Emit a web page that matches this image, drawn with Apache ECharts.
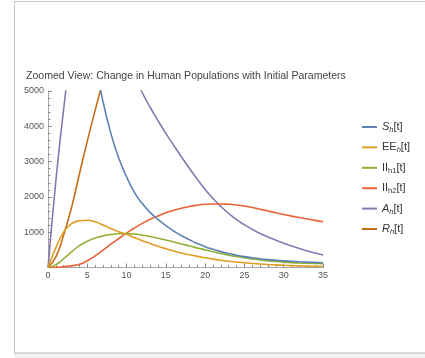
<!DOCTYPE html>
<html><head><meta charset="utf-8">
<script src="https://cdn.jsdelivr.net/npm/echarts@6/dist/echarts.min.js"></script>
<style>
html,body{margin:0;padding:0;background:#fff;}
#frame{position:absolute;left:14px;top:1px;width:420px;height:350px;border-left:1px solid #c8c8c8;border-top:1px solid #c8c8c8;border-bottom:2px solid #d8d8d8;}
#under{position:absolute;left:14px;top:354px;width:420px;height:4px;background:#f2f2f2;}
#c{position:absolute;left:0;top:0;width:425px;height:358px;}
</style></head>
<body>
<div id="frame"></div><div id="under"></div>
<div id="c"></div>
<script>
// ---- data ----
const titleText = "Zoomed View: Change in Human Populations with Initial Parameters";
const xTicks = [0, 5, 10, 15, 20, 25, 30, 35];
const yTicks = [0, 1000, 2000, 3000, 4000, 5000];

// time t = 0, 1, 2, ..., 35
const tGrid = [0,1,2,3,4,5,6,7,8,9,10,11,12,13,14,15,16,17,18,19,20,21,22,23,24,25,26,27,28,29,30,31,32,33,34,35];

const vS  = [20000,16500,13300,10700,8700,7200,5850,4700,3800,3100,2570,2130,1810,1560,1360,1185,1035,900,785,680,590,515,450,395,348,308,275,247,224,205,189,175,163,153,144,136];
const vEE = [0,560,1010,1245,1325,1340,1295,1205,1105,1015,940,850,760,680,600,530,465,410,360,315,275,238,205,178,155,133,115,99,85,73,62,53,45,39,34,30];
const vI1 = [0,80,250,440,620,745,835,895,935,955,960,950,920,880,830,780,725,668,610,555,500,447,395,350,310,275,243,213,188,168,152,139,129,121,115,110];
const vI2 = [0,5,25,50,90,190,330,490,660,820,975,1120,1250,1365,1460,1550,1620,1680,1730,1765,1790,1800,1800,1790,1770,1740,1700,1650,1600,1550,1500,1455,1415,1375,1335,1300];
const vA  = [0,2450,4500,6150,7000,7450,7480,7350,7000,6500,5950,5430,4950,4540,4160,3800,3460,3130,2810,2500,2210,1955,1730,1530,1355,1210,1080,965,865,775,690,610,540,470,410,355];
const vR  = [0,300,930,1700,2650,3580,4450,5300,6150,6950,7700,8400,9050,9650,10200,10700,11150,11550,11900,12200,12450,12700,12900,13100,13250,13400,13550,13650,13750,13850,13950,14000,14050,14100,14150,14200];

const names = ["S_h[t]", "EE_h[t]", "II_h1[t]", "II_h2[t]", "A_h[t]", "R_h[t]"];
const colors = ["#5E81B5", "#E19C24", "#8FB032", "#EB6235", "#8778B3", "#C56E1A"];
const vs = [vS, vEE, vI1, vI2, vA, vR];

const legendRich = {
  "S_h[t]":  "{it|S}{sit|h}{n|[t]}",
  "EE_h[t]": "{n|EE}{sit|h}{n|[t]}",
  "II_h1[t]":"{n|II}{s|h1}{n|[t]}",
  "II_h2[t]":"{n|II}{s|h2}{n|[t]}",
  "A_h[t]":  "{it|A}{sit|h}{n|[t]}",
  "R_h[t]":  "{it|R}{sit|h}{n|[t]}"
};

const series = names.map((n, i) => ({
  name: n, type: 'line', showSymbol: false, symbol: 'none',
  smooth: 0.5, clip: true, xAxisIndex: 0,
  lineStyle: {color: colors[i], width: 1.6},
  itemStyle: {color: colors[i]},
  z: 10 - i,
  data: tGrid.map((t, k) => [t, vs[i][k]])
}));

const FF = 'Liberation Sans, Arial, sans-serif';
const chart = echarts.init(document.getElementById('c'), null, {renderer: 'canvas'});
const axisCol = '#a8a8a8';
const labCol = '#555';
chart.setOption({
  animation: false,
  backgroundColor: 'transparent',
  title: {
    text: titleText, left: 26, top: 71, padding: 0,
    textStyle: {fontFamily: FF, fontSize: 10.55, fontWeight: 'normal', color: '#444'}
  },
  grid: {left: 48, right: 102, top: 91, bottom: 90.5, containLabel: false},
  legend: {
    orient: 'vertical', left: 357, top: 116, itemGap: 7.4,
    itemWidth: 15, itemHeight: 2, icon: 'rect',
    data: names,
    formatter: (n) => legendRich[n],
    textStyle: {
      fontFamily: FF, color: '#333', fontSize: 11,
      rich: {
        n:   {fontSize: 11, color: '#333', lineHeight: 14, fontFamily: FF},
        it:  {fontSize: 11, color: '#333', lineHeight: 14, fontStyle: 'italic', fontFamily: FF},
        s:   {fontSize: 7.5, color: '#333', lineHeight: 14, verticalAlign: 'bottom', padding: [5, 0, 0, 0], fontFamily: FF},
        sit: {fontSize: 7.5, color: '#333', lineHeight: 14, verticalAlign: 'bottom', padding: [5, 0, 0, 0], fontStyle: 'italic', fontFamily: FF}
      }
    }
  },
  xAxis: [{
    type: 'value', min: xTicks[0], max: xTicks[xTicks.length - 1], interval: 5,
    axisLine: {show: false},
    axisTick: {show: true, inside: true, length: 4, lineStyle: {color: '#888'}},
    minorTick: {show: true, splitNumber: 5, length: 2.5, lineStyle: {color: '#888'}},
    splitLine: {show: false},
    axisLabel: {color: labCol, fontSize: 9, margin: 4, fontFamily: FF,
      formatter: v => xTicks.includes(v) ? String(v) : ''}
  }, {
    type: 'value', position: 'bottom', min: -0.65, max: 35.7,
    axisLine: {show: true, onZero: false, lineStyle: {color: axisCol, width: 1}},
    axisTick: {show: false}, axisLabel: {show: false}, splitLine: {show: false}
  }],
  yAxis: {
    type: 'value', min: yTicks[0], max: yTicks[yTicks.length - 1], interval: 1000,
    axisLine: {show: true, onZero: false, lineStyle: {color: axisCol, width: 1}},
    axisTick: {show: true, inside: true, length: 4, lineStyle: {color: '#888'}},
    minorTick: {show: true, splitNumber: 5, length: 2.5, lineStyle: {color: '#888'}},
    splitLine: {show: false},
    axisLabel: {color: labCol, fontSize: 9, margin: 4, fontFamily: FF,
      formatter: v => (v === 0 ? '' : String(v))}
  },
  series: series
});
</script>
</body></html>
